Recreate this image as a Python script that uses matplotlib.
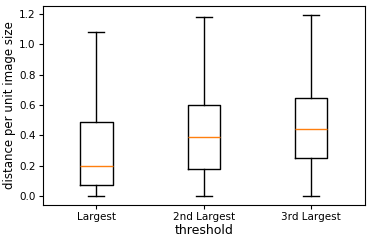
import matplotlib
matplotlib.use("Agg")
import matplotlib.pyplot as plt

categories = ["Largest", "2nd Largest", "3rd Largest"]
whislo = [0.0, 0.0, 0.0]
q1 = [0.072, 0.18, 0.25]
med = [0.198, 0.391, 0.44]
q3 = [0.486, 0.60, 0.644]
whishi = [1.083, 1.178, 1.195]

stats = [dict(label=c, whislo=lo, q1=a, med=m, q3=b, whishi=hi, fliers=[])
         for c, lo, a, m, b, hi in zip(categories, whislo, q1, med, q3, whishi)]

fig = plt.figure(figsize=(3.74, 2.42), dpi=100)
ax = fig.add_axes([42.7/374, 1 - 205.3/242, (365 - 42.7)/374, (205.3 - 5.7)/242])
ax.bxp(stats, showfliers=False)
ax.set_xlabel("threshold", fontsize=9, labelpad=1)
ax.set_ylabel("distance per unit image size", fontsize=8.5, labelpad=2)
ax.tick_params(labelsize=7.5, pad=2, length=3)
fig.savefig("out.png", dpi=100)
